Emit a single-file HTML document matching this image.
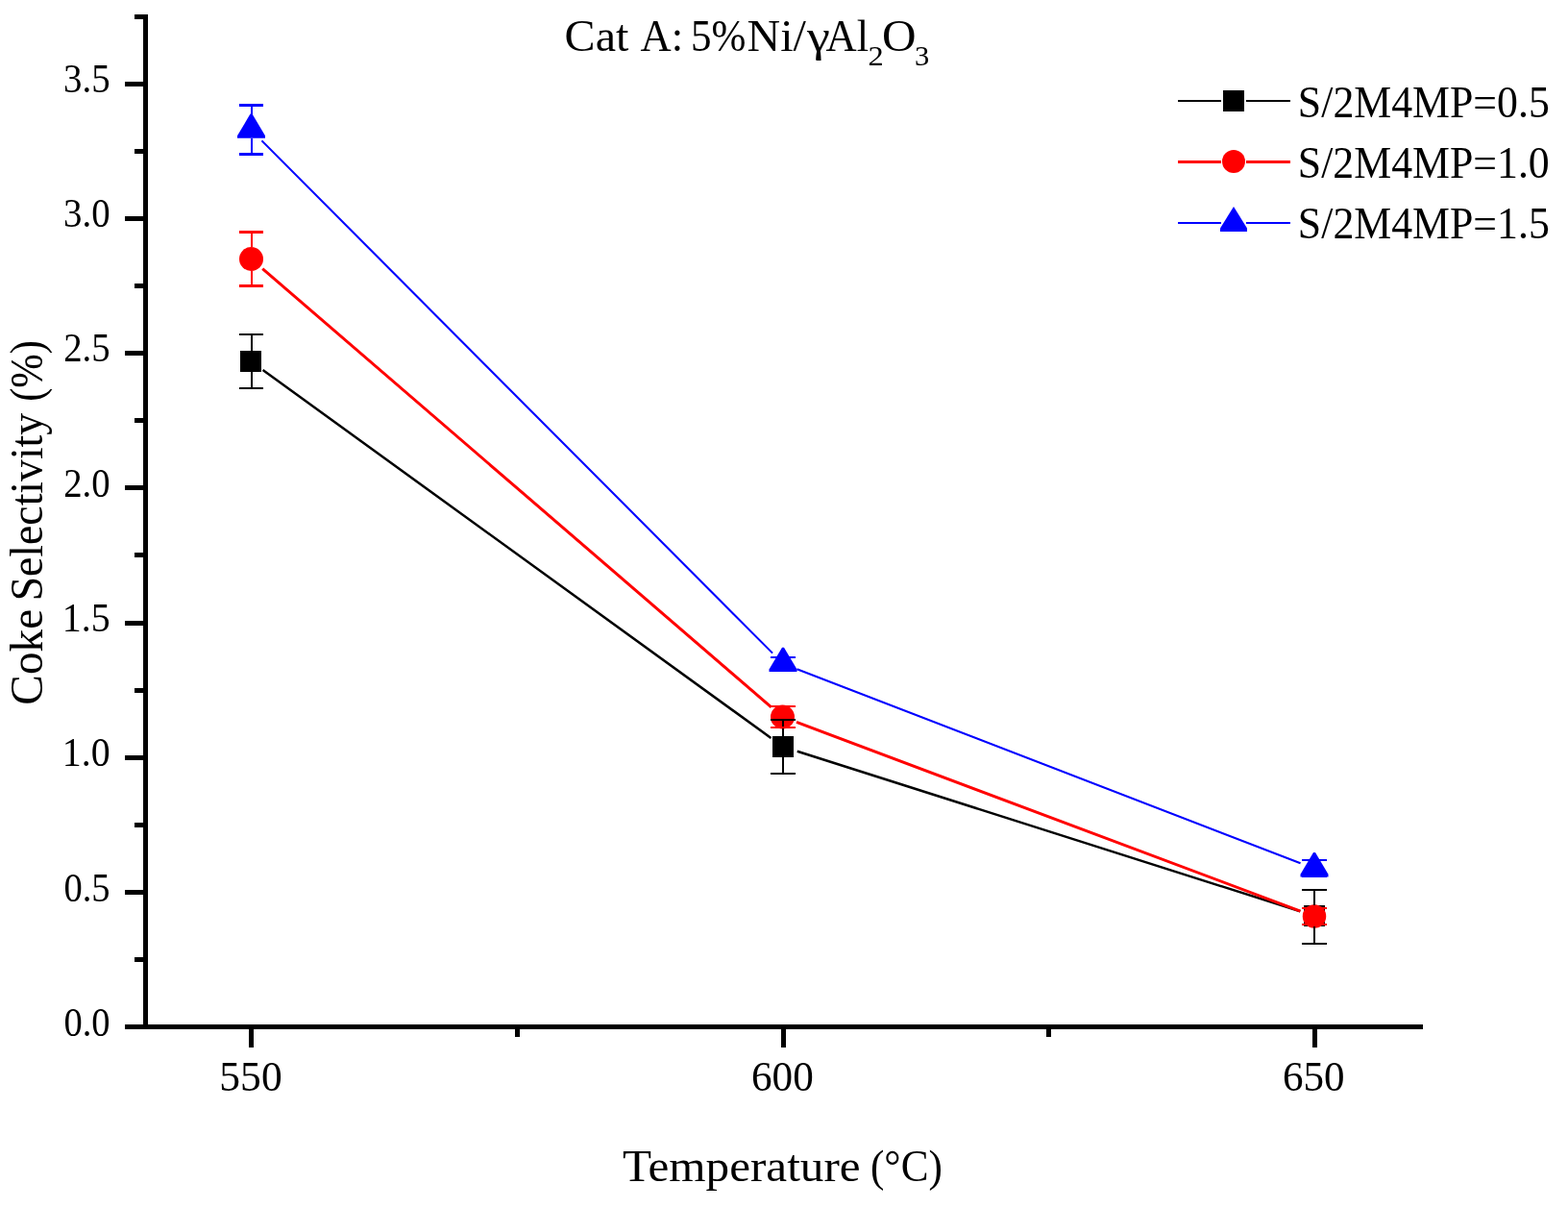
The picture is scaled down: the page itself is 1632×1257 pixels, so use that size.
<!DOCTYPE html>
<html><head><meta charset="utf-8"><title>Coke Selectivity vs Temperature</title>
<style>html,body{margin:0;padding:0;background:#fff;}body{width:1632px;height:1257px;overflow:hidden;}svg{display:block;}text{font-family:"Liberation Serif", "DejaVu Serif", serif;fill:#000;}</style>
</head><body>
<svg width="1632" height="1257" viewBox="0 0 1632 1257">
<rect x="0" y="0" width="1632" height="1257" fill="#fff"/>
<g fill="#000" shape-rendering="crispEdges"><rect x="149" y="15" width="5" height="1056"/><rect x="130" y="1066" width="1351" height="5"/><rect x="130" y="1066.00" width="19" height="5"/><rect x="130" y="925.85" width="19" height="5"/><rect x="130" y="785.70" width="19" height="5"/><rect x="130" y="645.55" width="19" height="5"/><rect x="130" y="505.40" width="19" height="5"/><rect x="130" y="365.25" width="19" height="5"/><rect x="130" y="225.10" width="19" height="5"/><rect x="130" y="84.95" width="19" height="5"/><rect x="140" y="995.92" width="9" height="5"/><rect x="140" y="855.77" width="9" height="5"/><rect x="140" y="715.62" width="9" height="5"/><rect x="140" y="575.47" width="9" height="5"/><rect x="140" y="435.32" width="9" height="5"/><rect x="140" y="295.17" width="9" height="5"/><rect x="140" y="155.02" width="9" height="5"/><rect x="140" y="14.88" width="9" height="5"/><rect x="259.00" y="1071" width="5" height="19"/><rect x="812.50" y="1071" width="5" height="19"/><rect x="1366.00" y="1071" width="5" height="19"/><rect x="535.75" y="1071" width="5" height="8"/><rect x="1089.25" y="1071" width="5" height="8"/></g>
<text id="yl0" y="1078.00" font-size="41.80"><tspan x="66.43" textLength="48.13" lengthAdjust="spacingAndGlyphs">0.0</tspan></text>
<text id="yl1" y="937.66" font-size="41.80"><tspan x="66.43" textLength="48.17" lengthAdjust="spacingAndGlyphs">0.5</tspan></text>
<text id="yl2" y="797.33" font-size="41.80"><tspan x="64.80" textLength="49.82" lengthAdjust="spacingAndGlyphs">1.0</tspan></text>
<text id="yl3" y="657.00" font-size="41.80"><tspan x="64.79" textLength="49.86" lengthAdjust="spacingAndGlyphs">1.5</tspan></text>
<text id="yl4" y="516.66" font-size="41.80"><tspan x="66.20" textLength="48.37" lengthAdjust="spacingAndGlyphs">2.0</tspan></text>
<text id="yl5" y="376.32" font-size="41.80"><tspan x="66.20" textLength="48.42" lengthAdjust="spacingAndGlyphs">2.5</tspan></text>
<text id="yl6" y="235.99" font-size="41.80"><tspan x="66.04" textLength="48.54" lengthAdjust="spacingAndGlyphs">3.0</tspan></text>
<text id="yl7" y="95.65" font-size="41.80"><tspan x="66.04" textLength="48.58" lengthAdjust="spacingAndGlyphs">3.5</tspan></text>
<text id="xl550" y="1134.70" font-size="44.80"><tspan x="228.37" textLength="65.29" lengthAdjust="spacingAndGlyphs">550</tspan></text>
<text id="xl600" y="1134.70" font-size="44.80"><tspan x="781.94" textLength="64.80" lengthAdjust="spacingAndGlyphs">600</tspan></text>
<text id="xl650" y="1134.70" font-size="44.80"><tspan x="1335.05" textLength="64.59" lengthAdjust="spacingAndGlyphs">650</tspan></text>
<text id="xt" y="1229.20" font-size="47.00"><tspan x="647.92" textLength="259.99" lengthAdjust="spacingAndGlyphs">Temperature </tspan><tspan x="906.00" textLength="74.79" lengthAdjust="spacingAndGlyphs">(°C)</tspan></text>
<text id="yt" y="0.00" font-size="48.00" transform="translate(43.50 0) rotate(-90)"><tspan x="-733.64" textLength="111.59" lengthAdjust="spacingAndGlyphs">Coke </tspan><tspan x="-625.36" textLength="206.97" lengthAdjust="spacingAndGlyphs">Selectivity </tspan><tspan x="-417.87" textLength="63.84" lengthAdjust="spacingAndGlyphs">(%)</tspan></text>
<text id="tt" y="53.00" font-size="47.00"><tspan x="587.63" textLength="78.77" lengthAdjust="spacingAndGlyphs">Cat </tspan><tspan x="666.56" textLength="55.68" lengthAdjust="spacingAndGlyphs">A: </tspan><tspan x="719.00" textLength="57.37" lengthAdjust="spacingAndGlyphs">5%</tspan><tspan x="777.62" textLength="61.28" lengthAdjust="spacingAndGlyphs">Ni/</tspan><tspan x="840.08" textLength="23.86" lengthAdjust="spacingAndGlyphs">γ</tspan><tspan x="859.57" textLength="44.53" lengthAdjust="spacingAndGlyphs">Al</tspan><tspan x="903.57" textLength="16.21" lengthAdjust="spacingAndGlyphs" y="68.00" font-size="28.50">2</tspan><tspan x="917.98" textLength="35.54" lengthAdjust="spacingAndGlyphs" y="53.00">O</tspan><tspan x="951.94" textLength="15.25" lengthAdjust="spacingAndGlyphs" y="68.00" font-size="28.50">3</tspan></text>
<text id="lg0" y="122.40" font-size="46.50"><tspan x="1350.87" textLength="261.94" lengthAdjust="spacingAndGlyphs">S/2M4MP=0.5</tspan></text>
<text id="lg1" y="185.40" font-size="46.50"><tspan x="1350.87" textLength="261.90" lengthAdjust="spacingAndGlyphs">S/2M4MP=1.0</tspan></text>
<text id="lg2" y="248.40" font-size="46.50"><tspan x="1350.87" textLength="261.94" lengthAdjust="spacingAndGlyphs">S/2M4MP=1.5</tspan></text>
<path d="M273.56 385.09L802.44 767.91M829.77 781.70L1353.23 948.30" stroke="#000000" stroke-width="2.50" fill="none"/>
<rect x="250.00" y="365.00" width="22" height="22" fill="#000000"/>
<rect x="804.00" y="766.00" width="22" height="22" fill="#000000"/>
<rect x="1357.00" y="942.00" width="22" height="22" fill="#000000"/>
<path d="M273.24 279.62L802.76 735.88M829.01 751.44L1353.49 948.06" stroke="#ff0000" stroke-width="3.00" fill="none"/>
<circle cx="261.50" cy="269.50" r="12.50" fill="#ff0000"/>
<circle cx="814.50" cy="746.00" r="12.50" fill="#ff0000"/>
<circle cx="1368.00" cy="953.50" r="12.25" fill="#ff0000"/>
<path d="M272.44 146.38L804.06 679.62M829.46 696.18L1353.54 898.35" stroke="#0000ff" stroke-width="2.10" fill="none"/>
<polygon points="260.50,118.60 262.50,118.60 276.00,141.20 276.00,143.80 247.00,143.80 247.00,141.20" fill="#0000ff"/>
<polygon points="814.00,673.80 816.00,673.80 829.50,696.40 829.50,699.00 800.50,699.00 800.50,696.40" fill="#0000ff"/>
<polygon points="1367.00,887.00 1369.00,887.00 1382.50,909.80 1382.50,912.40 1353.50,912.40 1353.50,909.80" fill="#0000ff"/>
<g fill="#000000" shape-rendering="crispEdges"><rect x="261" y="348.00" width="2" height="17.00"/><rect x="261" y="387.00" width="2" height="17.00"/><rect x="249" y="347" width="25" height="2"/><rect x="249" y="403" width="25" height="2"/><rect x="814" y="749.00" width="2" height="17.00"/><rect x="814" y="788.00" width="2" height="17.00"/><rect x="802" y="748" width="26" height="2"/><rect x="802" y="804" width="26" height="2"/><rect x="1367" y="926.00" width="2" height="16.00"/><rect x="1367" y="964.00" width="2" height="18.00"/><rect x="1355" y="925" width="26" height="2"/><rect x="1355" y="981" width="26" height="2"/></g>
<g fill="#ff0000" shape-rendering="crispEdges"><rect x="261" y="241.50" width="2" height="15.50"/><rect x="261" y="282.00" width="2" height="15.50"/><rect x="249" y="240" width="25" height="3"/><rect x="249" y="296" width="25" height="3"/><rect x="802" y="734" width="26" height="2"/><rect x="802" y="756" width="26" height="2"/><rect x="1355" y="944" width="26" height="2"/><rect x="1355" y="961" width="26" height="2"/></g>
<g fill="#0000ff" shape-rendering="crispEdges"><rect x="261" y="109.50" width="2" height="9.10"/><rect x="261" y="143.80" width="2" height="16.70"/><rect x="249" y="108" width="25" height="3"/><rect x="249" y="159" width="25" height="3"/><rect x="802" y="683" width="26" height="2"/><rect x="802" y="696" width="26" height="2"/><rect x="1355" y="894" width="26" height="2"/><rect x="1355" y="911" width="26" height="2"/></g>
<path d="M1226 105.00H1271M1297 105.00H1343" stroke="#000000" stroke-width="2.0" fill="none"/>
<rect x="1273" y="94" width="22" height="22" fill="#000000"/>
<path d="M1226 168.50H1271M1297 168.50H1343" stroke="#ff0000" stroke-width="3.0" fill="none"/>
<circle cx="1284" cy="168" r="12" fill="#ff0000"/>
<path d="M1226 232.00H1271M1297 232.00H1343" stroke="#0000ff" stroke-width="2.2" fill="none"/>
<polygon points="1284,215 1270,237.5 1270,241 1298,241 1298,237.5" fill="#0000ff"/>
</svg>
</body></html>
